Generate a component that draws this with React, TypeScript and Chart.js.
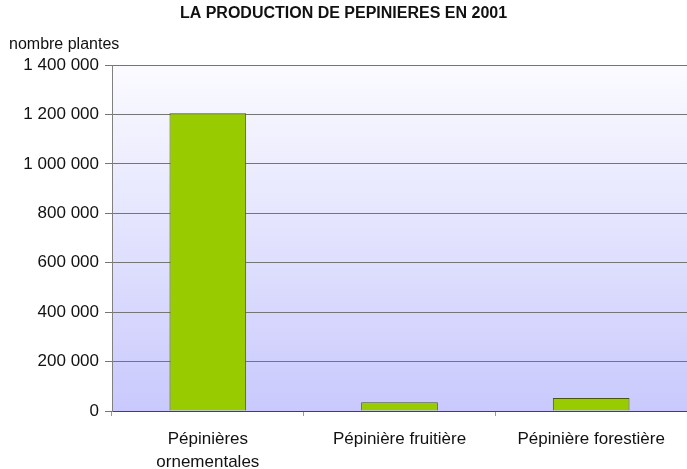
import React, { useEffect, useRef } from "react";
import { Chart, registerables } from "chart.js";

Chart.register(...registerables);

const categories: (string | string[])[] = [
  ["Pépinières", "ornementales"],
  "Pépinière fruitière",
  "Pépinière forestière",
];
const plantCounts: number[] = [1205000, 35000, 53000];
const yTickValues: number[] = [0, 200000, 400000, 600000, 800000, 1000000, 1200000, 1400000];
const chartTitle = "LA PRODUCTION DE PEPINIERES EN 2001";
const yAxisLabel = "nombre plantes";

const FONT = "'Liberation Sans', Arial, sans-serif";

const fmt = (v: number) =>
  String(Math.round(v)).replace(/\B(?=(\d{3})+(?!\d))/g, " ");

const bgPlugin = {
  id: "bgGradient",
  beforeDraw(chart: any) {
    const { ctx, chartArea } = chart;
    if (!chartArea) return;
    const g = ctx.createLinearGradient(0, chartArea.top, 0, chartArea.bottom);
    g.addColorStop(0, "#fbfbff");
    g.addColorStop(1, "#c9c9fd");
    ctx.save();
    ctx.fillStyle = g;
    ctx.fillRect(chartArea.left, chartArea.top, chartArea.right - chartArea.left, chartArea.bottom - chartArea.top);
    ctx.restore();
  },
  afterDraw(chart: any) {
    const { ctx } = chart;
    ctx.save();
    ctx.fillStyle = "#111";
    ctx.textBaseline = "middle";
    ctx.font = `bold 16px ${FONT}`;
    ctx.textAlign = "center";
    ctx.fillText(chartTitle, 343.5, 14);
    ctx.font = `16px ${FONT}`;
    ctx.textAlign = "left";
    ctx.fillText(yAxisLabel, 9, 45);
    ctx.restore();
  },
};

export default function App() {
  const ref = useRef<HTMLCanvasElement | null>(null);
  useEffect(() => {
    if (!ref.current) return;
    const chart = new Chart(ref.current, {
      type: "bar",
      data: {
        labels: categories as any,
        datasets: [
          {
            data: plantCounts,
            backgroundColor: "#99cc00",
            borderColor: "#46560a",
            borderWidth: 1,
            categoryPercentage: 1,
            barPercentage: 0.4,
          },
        ],
      },
      options: {
        animation: false,
        responsive: false,
        maintainAspectRatio: false,
        layout: { padding: { top: 65, left: 0, right: 0, bottom: 0 } },
        plugins: {
          legend: { display: false },
          title: { display: false },
          tooltip: { enabled: false },
        },
        scales: {
          x: {
            grid: {
              display: true,
              offset: true,
              drawOnChartArea: false,
              tickLength: 5,
              color: "#999",
            },
            border: { display: true, color: "#444", width: 1 },
            ticks: {
              color: "#111",
              font: { family: FONT, size: 17, lineHeight: 1.35 },
              padding: 12,
              maxRotation: 0,
              autoSkip: false,
            },
            afterFit: (s: any) => {
              s.height = 58;
            },
          },
          y: {
            min: 0,
            max: 1400000,
            afterBuildTicks: (s: any) => {
              s.ticks = yTickValues.map((v) => ({ value: v }));
            },
            grid: { color: "#757575", lineWidth: 1, tickLength: 7 },
            border: { display: true, color: "#808080", width: 1 },
            ticks: {
              color: "#111",
              font: { family: FONT, size: 17 },
              padding: 6,
              callback: (v: any) => fmt(Number(v)),
            },
            afterFit: (s: any) => {
              s.width = 112;
            },
          },
        },
      },
      plugins: [bgPlugin],
    });
    return () => chart.destroy();
  }, []);
  return (
    <div style={{ position: "fixed", left: 0, top: 0, width: 687, height: 469, background: "#fff" }}>
      <canvas ref={ref} width={687} height={469} style={{ display: "block" }} />
    </div>
  );
}
